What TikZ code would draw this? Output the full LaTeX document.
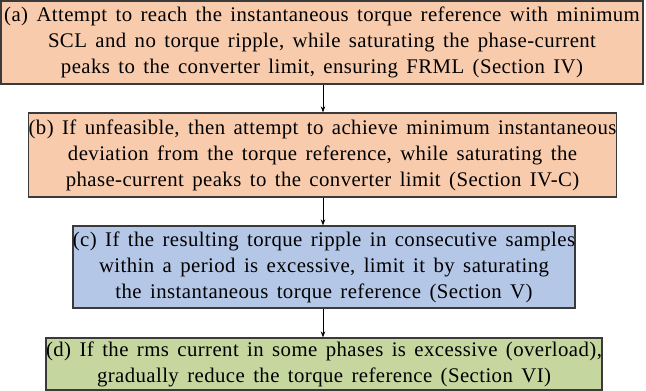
\documentclass[tikz,border=0pt]{standalone}
\usepackage{fontspec}
\setmainfont{Liberation Serif}[WordSpace=1.5,LetterSpace=2]
\usetikzlibrary{arrows.meta}
\definecolor{orfill}{HTML}{F8CBAD}
\definecolor{blfill}{HTML}{B4C7E7}
\definecolor{grfill}{HTML}{C5D69F}
\definecolor{bordc}{HTML}{3A3A3A}
\begin{document}
\begin{tikzpicture}[x=1pt,y=-1pt,
  box/.style={draw=bordc,line width=1.3pt,align=center,inner sep=0pt,
    font=\rmfamily\fontsize{20.8}{26}\selectfont},
  conn/.style={-{Stealth[length=6pt,width=4.5pt]},line width=0.7pt}]
\useasboundingbox (0,0) rectangle (646,391);
\node[box,fill=orfill,minimum width=642pt,minimum height=83pt] (a) at (322,42.5)
  {(a) Attempt to reach the instantaneous torque reference with minimum\\
   SCL and no torque ripple, while saturating the phase-current\\
   peaks to the converter limit, ensuring FRML (Section IV)};
\node[box,fill=orfill,minimum width=575pt,minimum height=84pt] (b) at (322.5,155)
  {(b) If unfeasible, then attempt to achieve minimum instantaneous\\
   deviation from the torque reference, while saturating the\\
   phase-current peaks to the converter limit (Section IV-C)};
\node[box,fill=blfill,minimum width=494pt,minimum height=82pt] (c) at (324,267)
  {(c) If the resulting torque ripple in consecutive samples\\
   within a period is excessive, limit it by saturating\\
   the instantaneous torque reference (Section V)};
\node[box,fill=grfill,minimum width=544pt,minimum height=52pt] (d) at (324,364)
  {(d) If the rms current in some phases is excessive (overload),\\
   gradually reduce the torque reference (Section VI)};
\coordinate (ab) at (323,0);
\draw[conn] (a.south -| ab) -- (b.north -| ab);
\draw[conn] (b.south -| ab) -- (c.north -| ab);
\draw[conn] (c.south -| ab) -- (d.north -| ab);
\end{tikzpicture}
\end{document}
